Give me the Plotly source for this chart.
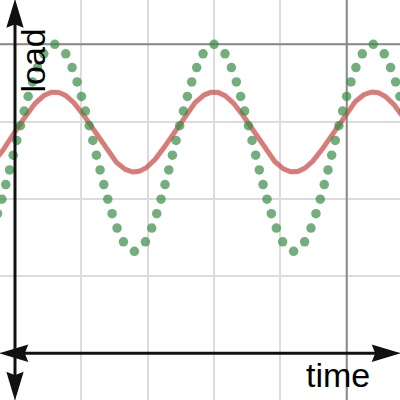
import numpy as np
import plotly.graph_objects as go

# ---- values ----
x_range = [-0.226, 5.803]
y_range = [-0.605, 4.574]
major_x = [5]
major_y = [4]

period = 2.4
peak_x = 3.0
red_mid, red_amp = 2.865, 0.518
green_mid, green_amp = 2.66, 1.34

x_title = "time"
y_title = "load"

W = H = 400
sx = W / (x_range[1] - x_range[0])
sy = H / (y_range[1] - y_range[0])


def dx_(p):
    return x_range[0] + p / sx


def dy_(p):
    return y_range[1] - p / sy


# red solid curve
xs = np.linspace(x_range[0] - 0.1, x_range[1] + 0.1, 900)
red_y = red_mid + red_amp * np.cos(2 * np.pi * (xs - peak_x) / period)

# green dotted curve: round dots evenly spaced along the curve (screen arc length)
xf = np.linspace(x_range[0] - period, x_range[1] + period, 40000)
gf = green_mid + green_amp * np.cos(2 * np.pi * (xf - peak_x) / period)
seg = np.hypot(np.diff(xf) * sx, np.diff(gf) * sy)
s = np.concatenate([[0.0], np.cumsum(seg)])
s_peak = np.interp(peak_x, xf, s)
s_per = np.interp(peak_x + period, xf, s) - s_peak
n = 2 * round(s_per / 31.0)
step = s_per / n
k0 = np.ceil((s[0] - s_peak) / step)
k1 = np.floor((s[-1] - s_peak) / step)
sd = s_peak + np.arange(k0, k1 + 1) * step
gx = np.interp(sd, s, xf)
gy = green_mid + green_amp * np.cos(2 * np.pi * (gx - peak_x) / period)
keep = (gx > x_range[0] - 0.1) & (gx < x_range[1] + 0.1)
gx, gy = gx[keep], gy[keep]

fig = go.Figure()
fig.add_trace(go.Scatter(x=xs, y=red_y, mode="lines",
                         line=dict(color="rgba(199,68,64,0.7)", width=5),
                         hoverinfo="skip"))
fig.add_trace(go.Scatter(x=gx, y=gy, mode="markers",
                         marker=dict(color="rgba(56,140,70,0.7)", size=9.5, line=dict(width=0)),
                         hoverinfo="skip"))

shapes = []
for v in major_x:
    shapes.append(dict(type="line", xref="x", yref="y", x0=v, x1=v, y0=y_range[0], y1=y_range[1],
                       line=dict(color="#8a8a8a", width=2), layer="between"))
for v in major_y:
    shapes.append(dict(type="line", xref="x", yref="y", y0=v, y1=v, x0=x_range[0], x1=x_range[1],
                       line=dict(color="#8a8a8a", width=2), layer="between"))

AX = "#111111"
# axes lines
shapes.append(dict(type="line", xref="x", yref="y", x0=0, x1=0, y0=dy_(10), y1=dy_(390),
                   line=dict(color=AX, width=3)))
shapes.append(dict(type="line", xref="x", yref="y", y0=0, y1=0, x0=dx_(10), x1=dx_(390),
                   line=dict(color=AX, width=3)))


def arrow(tx, ty, ux, uy, L=25, hw=7.5, notch=3):
    nx, ny = -uy, ux
    bx, by = tx - L * ux, ty - L * uy
    c1 = (bx + hw * nx, by + hw * ny)
    c2 = (bx - hw * nx, by - hw * ny)
    m = (tx - (L - notch) * ux, ty - (L - notch) * uy)
    pts = [(tx, ty), c1, m, c2]
    path = "M " + " L ".join(f"{dx_(p[0]):.5f},{dy_(p[1]):.5f}" for p in pts) + " Z"
    return dict(type="path", xref="x", yref="y", path=path,
                fillcolor=AX, line=dict(color=AX, width=1.5))


ox = -x_range[0] * sx
oy = y_range[1] * sy
shapes.append(arrow(ox, 1.5, 0, -1))
shapes.append(arrow(ox, 398, 0, 1))
shapes.append(arrow(2, oy, -1, 0))
shapes.append(arrow(398, oy, 1, 0))

fig.update_layout(
    width=W, height=H,
    margin=dict(l=0, r=0, t=0, b=0),
    paper_bgcolor="white", plot_bgcolor="white",
    showlegend=False,
    shapes=shapes,
    xaxis=dict(range=x_range, showgrid=True, gridcolor="#dcdcdc", gridwidth=1.5,
               dtick=1, tick0=0, zeroline=False, showticklabels=False, ticks="",
               fixedrange=True),
    yaxis=dict(range=y_range, showgrid=True, gridcolor="#dcdcdc", gridwidth=1.5,
               dtick=1, tick0=0, zeroline=False, showticklabels=False, ticks="",
               fixedrange=True),
    annotations=[
        dict(text=x_title, x=dx_(337.5), y=dy_(375), xref="x", yref="y", showarrow=False,
             xanchor="center", yanchor="middle",
             font=dict(family="Liberation Sans, Arial, sans-serif", size=34, color="black")),
        dict(text=y_title, x=dx_(32.5), y=dy_(61), xref="x", yref="y", showarrow=False,
             textangle=-90, xanchor="center", yanchor="middle",
             font=dict(family="Liberation Sans, Arial, sans-serif", size=34, color="black")),
    ],
)

fig.write_html("out.html", config={"displayModeBar": False},
               post_script="document.body.style.margin='0';document.body.style.overflow='hidden';")
